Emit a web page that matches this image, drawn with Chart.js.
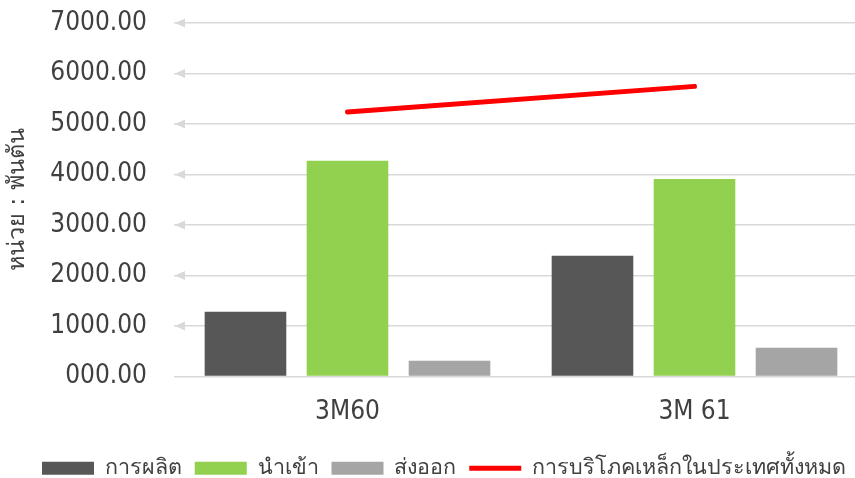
<!DOCTYPE html>
<html>
<head>
<meta charset="utf-8">
<script src="https://cdn.jsdelivr.net/npm/chart.js@4.4.1/dist/chart.umd.min.js"></script>
<style>
  html, body { margin: 0; padding: 0; background: #ffffff; overflow: hidden; }
  #wrap { width: 888px; height: 489px; }
</style>
</head>
<body>
<div id="wrap"><canvas id="steel-chart" width="888" height="489"></canvas></div>
<script>
// data (unit: thousand tons)
var categories = ['3M60', '3M 61'];
var production = [1282, 2391];
var imports = [4273, 3910];
var exports = [311, 568];
var consumption = [5238, 5745];
var yTickLabels = ['000.00', '1000.00', '2000.00', '3000.00', '4000.00', '5000.00', '6000.00', '7000.00'];

var seriesNames = ['การผลิต', 'นำเข้า', 'ส่งออก', 'การบริโภคเหล็กในประเทศทั้งหมด'];
var textColor = '#404040';
var gridColor = '#d9d9d9';
var numFont = '"DejaVu Sans Condensed", "DejaVu Sans", Tahoma, sans-serif';
var thaiFont = 'Tahoma, "DejaVu Sans", sans-serif';

// little arrow heads at the left end of every gridline (except zero)
var gridArrows = {
    id: 'gridArrows',
    afterLayout: function (chart) {
        // legend sits a bit right of the canvas centre in the original
        chart.legend.left += 10;
        chart.legend.right += 10;
    },
    beforeDatasetsDraw: function (chart) {
        var y = chart.scales.y;
        var left = chart.chartArea.left;
        var ctx = chart.ctx;
        ctx.save();
        ctx.fillStyle = gridColor;
        y.ticks.forEach(function (t) {
            if (t.value <= 0) return;
            var py = y.getPixelForValue(t.value);
            ctx.beginPath();
            ctx.moveTo(left + 1, py);
            ctx.lineTo(left + 11, py - 4.5);
            ctx.lineTo(left + 11, py + 4.5);
            ctx.closePath();
            ctx.fill();
        });
        ctx.restore();
    }
};

var config = {
    type: 'bar',
    data: {
        labels: categories,
        datasets: [{
            label: seriesNames[0],
            data: production,
            backgroundColor: '#575757',
            pointStyle: 'rect'
        }, {
            label: seriesNames[1],
            data: imports,
            backgroundColor: '#92d050',
            pointStyle: 'rect'
        }, {
            label: seriesNames[2],
            data: exports,
            backgroundColor: '#a5a5a5',
            pointStyle: 'rect'
        }, {
            type: 'line',
            label: seriesNames[3],
            data: consumption,
            borderColor: '#ff0000',
            backgroundColor: '#ff0000',
            borderWidth: 5,
            borderCapStyle: 'round',
            pointRadius: 0,
            pointStyle: 'line',
            tension: 0
        }]
    },
    options: {
        responsive: false,
        animation: false,
        categoryPercentage: 0.882,
        barPercentage: 0.8,
        layout: {
            padding: { top: 23, right: 20, left: 0, bottom: 0 }
        },
        plugins: {
            tooltip: { enabled: false },
            legend: {
                position: 'bottom',
                labels: {
                    usePointStyle: true,
                    pointStyleWidth: 52,
                    boxHeight: 13,
                    padding: 13,
                    color: textColor,
                    font: { family: thaiFont, size: 21.5 }
                }
            }
        },
        scales: {
            x: {
                grid: { display: false },
                border: { display: false },
                ticks: {
                    color: textColor,
                    padding: 12.5,
                    font: { family: numFont, size: 26 }
                },
                afterFit: function (scale) { scale.height = 68; }
            },
            y: {
                min: 0,
                max: 7000,
                ticks: {
                    stepSize: 1000,
                    padding: 27,
                    color: textColor,
                    font: { family: numFont, size: 26 },
                    callback: function (value, index) { return yTickLabels[index]; }
                },
                grid: { color: gridColor, lineWidth: 1.6, drawTicks: false },
                border: { display: false },
                title: {
                    display: true,
                    text: 'หน่วย : พันตัน',
                    color: textColor,
                    padding: { top: 4, bottom: 4 },
                    font: { family: thaiFont, size: 23.5 }
                },
                afterFit: function (scale) {
                    scale.width = 174;
                    scale.paddingTop = 0;
                    scale.paddingBottom = 0;
                }
            }
        }
    },
    plugins: [gridArrows]
};

var ctx = document.getElementById('steel-chart').getContext('2d');
window.steelChart = new Chart(ctx, config);
</script>
</body>
</html>
